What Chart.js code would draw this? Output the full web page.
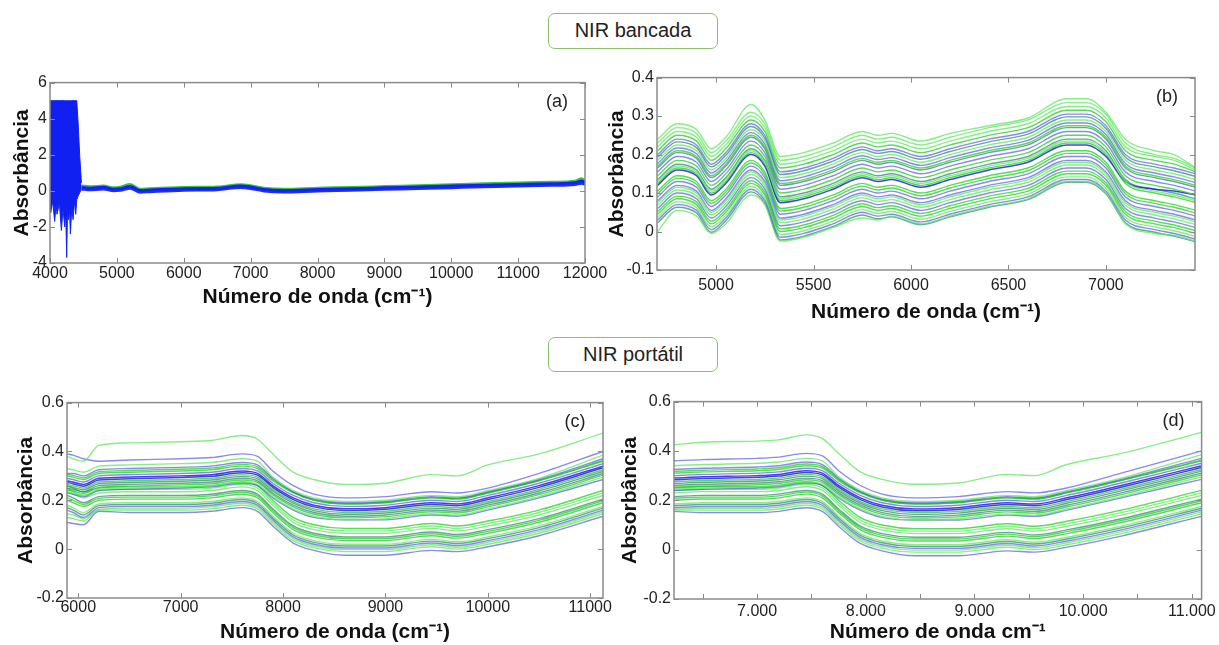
<!DOCTYPE html>
<html>
<head>
<meta charset="utf-8">
<script src="https://cdn.jsdelivr.net/npm/chart.js@4.4.0/dist/chart.umd.min.js"></script>
<style>
  body { margin: 0; background: #fff; width: 1219px; height: 645px; position: relative; overflow: hidden;
         font-family: 'Liberation Sans', Arial, sans-serif; }
  .box { position: absolute; border: 1.5px solid #8cbf6c; border-radius: 7px; box-sizing: border-box;
         text-align: center; font-size: 20px; color: #222; background: #fff; }
  .panel { position: absolute; }
</style>
</head>
<body>
<div class="box" style="left:548px;top:13px;width:170px;height:36px;line-height:33px">NIR bancada</div>
<div class="box" style="left:548px;top:337px;width:170px;height:35px;line-height:32px">NIR portátil</div>

<div class="panel" style="left:0;top:70px"><canvas id="chartA" width="612" height="240"></canvas></div>
<div class="panel" style="left:600px;top:65px"><canvas id="chartB" width="619" height="262"></canvas></div>
<div class="panel" style="left:0;top:390px"><canvas id="chartC" width="622" height="255"></canvas></div>
<div class="panel" style="left:610px;top:389px"><canvas id="chartD" width="609" height="256"></canvas></div>

<script>
// ---- (a) NIR bancada, full range ----
const blockWave = [4000, 4010, 4040, 4070, 4090, 4105, 4140, 4170, 4195, 4220, 4235, 4250, 4262, 4275, 4290, 4305, 4325, 4345, 4365, 4385, 4400, 4420, 4445, 4470];
const blockTop = [5, 5, 5, 5, 5, 5, 5, 5, 5, 5, 5, 5, 5, 5, 5, 5, 5, 5, 5, 5, 5, 3.8, 1.9, 0.45];
const blockBottom = [-1.0, -1.2, -0.6, -1.7, -0.8, -1.3, -0.7, -2.2, -1.0, -2.0, -1.2, -3.7, -1.0, -1.6, -0.9, -2.4, -1.0, -1.6, -0.6, -1.3, -0.5, -0.3, -0.1, 0.1];

const wavA = [4470, 4600, 4800, 4950, 5050, 5200, 5350, 5500, 6000, 6500, 6850, 7000, 7200, 7500, 8000, 8500, 9000, 9500, 10000, 10500, 11000, 11500, 11850, 11950, 12000];
const bandAUpper = [0.28, 0.24, 0.28, 0.18, 0.22, 0.36, 0.1, 0.13, 0.2, 0.23, 0.35, 0.3, 0.16, 0.1, 0.16, 0.2, 0.25, 0.3, 0.35, 0.4, 0.45, 0.49, 0.55, 0.68, 0.55];
const bandAMid = [0.2, 0.15, 0.2, 0.1, 0.12, 0.25, 0.02, 0.05, 0.12, 0.15, 0.27, 0.22, 0.08, 0.02, 0.08, 0.12, 0.17, 0.22, 0.27, 0.32, 0.36, 0.4, 0.45, 0.55, 0.45];
const bandALower = [0.1, 0.05, 0.1, 0.0, 0.02, 0.14, -0.08, -0.05, 0.03, 0.06, 0.18, 0.13, -0.01, -0.07, -0.01, 0.03, 0.08, 0.12, 0.17, 0.22, 0.26, 0.3, 0.35, 0.42, 0.35];

const xTicksA = [4000, 5000, 6000, 7000, 8000, 9000, 10000, 11000, 12000];
const xLabelsA = ['4000', '5000', '6000', '7000', '8000', '9000', '10000', '11000', '12000'];
const yTicksA = [-4, -2, 0, 2, 4, 6];
const yLabelsA = ['-4', '-2', '0', '2', '4', '6'];

// ---- (b) NIR bancada, 4700-7460 ----
const wavB = [4700, 4800, 4900, 4975, 5050, 5180, 5250, 5330, 5450, 5600, 5750, 5830, 5900, 6050, 6200, 6400, 6600, 6800, 6900, 7000, 7100, 7250, 7350, 7460];
const specB = [
  [0.24, 0.28, 0.265, 0.215, 0.245, 0.33, 0.29, 0.195, 0.205, 0.23, 0.26, 0.25, 0.255, 0.235, 0.255, 0.275, 0.295, 0.345, 0.345, 0.31, 0.24, 0.21, 0.2, 0.165],
  [0.22, 0.26, 0.245, 0.195, 0.225, 0.30, 0.27, 0.175, 0.185, 0.21, 0.24, 0.23, 0.235, 0.215, 0.235, 0.26, 0.28, 0.325, 0.325, 0.295, 0.22, 0.195, 0.185, 0.16],
  [0.20, 0.24, 0.225, 0.175, 0.205, 0.28, 0.25, 0.155, 0.165, 0.19, 0.22, 0.21, 0.215, 0.195, 0.215, 0.24, 0.26, 0.305, 0.305, 0.275, 0.20, 0.175, 0.165, 0.15],
  [0.185, 0.225, 0.21, 0.16, 0.19, 0.265, 0.235, 0.14, 0.15, 0.175, 0.205, 0.195, 0.20, 0.18, 0.20, 0.225, 0.245, 0.29, 0.29, 0.26, 0.185, 0.16, 0.15, 0.135],
  [0.17, 0.21, 0.195, 0.145, 0.175, 0.25, 0.22, 0.125, 0.135, 0.16, 0.19, 0.18, 0.185, 0.165, 0.185, 0.21, 0.23, 0.275, 0.275, 0.245, 0.17, 0.145, 0.135, 0.12],
  [0.155, 0.195, 0.18, 0.13, 0.16, 0.235, 0.205, 0.11, 0.12, 0.145, 0.175, 0.165, 0.17, 0.15, 0.17, 0.195, 0.215, 0.26, 0.26, 0.23, 0.155, 0.13, 0.12, 0.105],
  [0.145, 0.185, 0.17, 0.12, 0.15, 0.225, 0.195, 0.10, 0.11, 0.135, 0.165, 0.155, 0.16, 0.14, 0.16, 0.185, 0.205, 0.25, 0.25, 0.22, 0.145, 0.12, 0.11, 0.095],
  [0.13, 0.17, 0.155, 0.105, 0.135, 0.21, 0.18, 0.085, 0.095, 0.12, 0.15, 0.14, 0.145, 0.125, 0.145, 0.17, 0.19, 0.235, 0.235, 0.205, 0.13, 0.105, 0.095, 0.08],
  [0.12, 0.16, 0.145, 0.095, 0.125, 0.20, 0.17, 0.075, 0.085, 0.11, 0.14, 0.13, 0.135, 0.115, 0.135, 0.16, 0.18, 0.225, 0.225, 0.195, 0.13, 0.11, 0.105, 0.095],
  [0.105, 0.145, 0.13, 0.08, 0.11, 0.185, 0.155, 0.06, 0.07, 0.095, 0.125, 0.115, 0.12, 0.10, 0.12, 0.145, 0.165, 0.21, 0.21, 0.18, 0.105, 0.08, 0.07, 0.055],
  [0.09, 0.13, 0.115, 0.065, 0.095, 0.17, 0.14, 0.045, 0.055, 0.08, 0.11, 0.10, 0.105, 0.085, 0.105, 0.13, 0.15, 0.195, 0.195, 0.165, 0.09, 0.065, 0.055, 0.04],
  [0.075, 0.115, 0.10, 0.05, 0.08, 0.155, 0.125, 0.03, 0.04, 0.065, 0.095, 0.085, 0.09, 0.07, 0.09, 0.115, 0.135, 0.18, 0.18, 0.15, 0.075, 0.05, 0.04, 0.025],
  [0.06, 0.10, 0.085, 0.035, 0.065, 0.14, 0.11, 0.015, 0.025, 0.05, 0.08, 0.07, 0.075, 0.055, 0.075, 0.10, 0.12, 0.165, 0.165, 0.135, 0.06, 0.035, 0.025, 0.01],
  [0.045, 0.085, 0.07, 0.02, 0.05, 0.125, 0.095, 0.0, 0.01, 0.035, 0.065, 0.055, 0.06, 0.04, 0.06, 0.085, 0.105, 0.15, 0.15, 0.12, 0.045, 0.02, 0.01, -0.005],
  [0.03, 0.07, 0.055, 0.005, 0.035, 0.11, 0.08, -0.015, -0.005, 0.02, 0.05, 0.04, 0.045, 0.025, 0.045, 0.07, 0.09, 0.135, 0.135, 0.105, 0.03, 0.005, -0.005, -0.02],
  [0.0, 0.055, 0.04, -0.005, 0.02, 0.095, 0.07, -0.025, -0.015, 0.01, 0.035, 0.03, 0.04, 0.02, 0.04, 0.065, 0.085, 0.13, 0.13, 0.10, 0.02, -0.005, -0.01, -0.025],
  [0.135, 0.175, 0.16, 0.11, 0.14, 0.215, 0.185, 0.09, 0.10, 0.125, 0.155, 0.145, 0.15, 0.13, 0.15, 0.175, 0.195, 0.24, 0.24, 0.21, 0.135, 0.11, 0.10, 0.085],
  [0.08, 0.12, 0.105, 0.055, 0.085, 0.16, 0.13, 0.035, 0.045, 0.07, 0.10, 0.09, 0.095, 0.075, 0.095, 0.12, 0.14, 0.185, 0.185, 0.155, 0.08, 0.055, 0.045, 0.03],
  [0.165, 0.205, 0.19, 0.14, 0.17, 0.245, 0.215, 0.12, 0.13, 0.155, 0.185, 0.175, 0.18, 0.16, 0.18, 0.205, 0.225, 0.27, 0.27, 0.24, 0.165, 0.14, 0.13, 0.115],
  [0.23, 0.27, 0.255, 0.205, 0.235, 0.31, 0.28, 0.185, 0.195, 0.22, 0.25, 0.24, 0.245, 0.225, 0.245, 0.27, 0.29, 0.335, 0.335, 0.305, 0.23, 0.2, 0.19, 0.165],
  [0.21, 0.25, 0.235, 0.185, 0.215, 0.29, 0.26, 0.165, 0.175, 0.20, 0.23, 0.22, 0.225, 0.205, 0.225, 0.25, 0.27, 0.315, 0.315, 0.285, 0.21, 0.185, 0.175, 0.155],
  [0.193, 0.233, 0.218, 0.168, 0.198, 0.273, 0.243, 0.148, 0.158, 0.183, 0.213, 0.203, 0.208, 0.188, 0.208, 0.233, 0.253, 0.298, 0.298, 0.268, 0.193, 0.168, 0.158, 0.143],
  [0.177, 0.217, 0.202, 0.152, 0.182, 0.257, 0.227, 0.132, 0.142, 0.167, 0.197, 0.187, 0.192, 0.172, 0.192, 0.217, 0.237, 0.282, 0.282, 0.252, 0.177, 0.152, 0.142, 0.127],
  [0.125, 0.165, 0.15, 0.10, 0.13, 0.205, 0.175, 0.08, 0.09, 0.115, 0.145, 0.135, 0.14, 0.12, 0.14, 0.165, 0.185, 0.23, 0.23, 0.2, 0.125, 0.1, 0.09, 0.075],
  [0.098, 0.138, 0.123, 0.073, 0.103, 0.178, 0.148, 0.053, 0.063, 0.088, 0.118, 0.108, 0.113, 0.093, 0.113, 0.138, 0.158, 0.203, 0.203, 0.173, 0.098, 0.073, 0.063, 0.048],
  [0.068, 0.108, 0.093, 0.043, 0.073, 0.148, 0.118, 0.023, 0.033, 0.058, 0.088, 0.078, 0.083, 0.063, 0.083, 0.108, 0.128, 0.173, 0.173, 0.143, 0.068, 0.043, 0.033, 0.018],
  [0.052, 0.092, 0.077, 0.027, 0.057, 0.132, 0.102, 0.007, 0.017, 0.042, 0.072, 0.062, 0.067, 0.047, 0.067, 0.092, 0.112, 0.157, 0.157, 0.127, 0.052, 0.027, 0.017, 0.002],
  [0.037, 0.077, 0.062, 0.012, 0.042, 0.117, 0.087, -0.008, 0.002, 0.027, 0.057, 0.047, 0.052, 0.032, 0.052, 0.077, 0.097, 0.142, 0.142, 0.112, 0.037, 0.012, 0.002, -0.013],
  [0.023, 0.063, 0.048, -0.002, 0.028, 0.103, 0.073, -0.022, -0.012, 0.013, 0.043, 0.033, 0.038, 0.018, 0.038, 0.063, 0.083, 0.128, 0.128, 0.098, 0.023, -0.002, -0.012, -0.027]
];
const colorsB = ['g', 'g', 'b', 'g', 'G', 'b', 'G', 'g', 'B', 'G', 'b', 'g', 'b', 'G', 'b', 'g', 't', 'b', 't',
                 'g', 'G', 't', 'b', 'G', 'G', 'g', 'G', 'g', 't'];

const xTicksB = [5000, 5500, 6000, 6500, 7000];
const xLabelsB = ['5000', '5500', '6000', '6500', '7000'];
const yTicksB = [-0.1, 0, 0.1, 0.2, 0.3, 0.4];
const yLabelsB = ['-0.1', '0', '0.1', '0.2', '0.3', '0.4'];

// ---- (c) NIR portatil ----
const wavC = [5890, 5950, 6050, 6200, 6500, 7000, 7300, 7600, 7750, 7900, 8100, 8300, 8600, 9000, 9450, 9700, 10000, 10500, 11125];
const specC = [
  [0.38, 0.37, 0.36, 0.425, 0.435, 0.44, 0.445, 0.465, 0.45, 0.39, 0.315, 0.285, 0.265, 0.27, 0.305, 0.30, 0.345, 0.39, 0.475],
  [0.39, 0.385, 0.37, 0.36, 0.365, 0.37, 0.375, 0.39, 0.38, 0.32, 0.26, 0.225, 0.21, 0.215, 0.235, 0.23, 0.25, 0.31, 0.40],
  [0.33, 0.325, 0.315, 0.34, 0.345, 0.35, 0.355, 0.37, 0.36, 0.295, 0.24, 0.21, 0.195, 0.20, 0.22, 0.215, 0.24, 0.29, 0.385],
  [0.31, 0.31, 0.30, 0.325, 0.33, 0.335, 0.34, 0.355, 0.345, 0.29, 0.235, 0.205, 0.19, 0.195, 0.215, 0.21, 0.235, 0.285, 0.37],
  [0.30, 0.295, 0.285, 0.31, 0.315, 0.32, 0.325, 0.34, 0.33, 0.28, 0.23, 0.20, 0.185, 0.19, 0.21, 0.205, 0.23, 0.28, 0.36],
  [0.29, 0.285, 0.275, 0.30, 0.305, 0.31, 0.315, 0.33, 0.32, 0.27, 0.22, 0.19, 0.175, 0.18, 0.20, 0.195, 0.22, 0.27, 0.35],
  [0.28, 0.275, 0.265, 0.29, 0.295, 0.30, 0.305, 0.32, 0.31, 0.26, 0.21, 0.18, 0.165, 0.17, 0.19, 0.185, 0.21, 0.26, 0.34],
  [0.265, 0.26, 0.25, 0.275, 0.28, 0.285, 0.29, 0.305, 0.295, 0.245, 0.195, 0.165, 0.15, 0.155, 0.175, 0.17, 0.195, 0.245, 0.325],
  [0.25, 0.245, 0.235, 0.26, 0.265, 0.27, 0.275, 0.29, 0.28, 0.23, 0.18, 0.15, 0.135, 0.14, 0.16, 0.155, 0.18, 0.23, 0.31],
  [0.235, 0.23, 0.22, 0.245, 0.25, 0.255, 0.26, 0.275, 0.265, 0.215, 0.165, 0.135, 0.12, 0.125, 0.145, 0.14, 0.165, 0.215, 0.295],
  [0.23, 0.225, 0.215, 0.24, 0.245, 0.25, 0.255, 0.27, 0.26, 0.21, 0.16, 0.13, 0.12, 0.12, 0.14, 0.135, 0.16, 0.21, 0.285],
  [0.26, 0.25, 0.235, 0.25, 0.255, 0.255, 0.26, 0.275, 0.26, 0.20, 0.13, 0.10, 0.085, 0.085, 0.105, 0.095, 0.115, 0.16, 0.24],
  [0.235, 0.225, 0.21, 0.23, 0.235, 0.235, 0.24, 0.255, 0.24, 0.18, 0.11, 0.08, 0.065, 0.065, 0.085, 0.075, 0.095, 0.14, 0.22],
  [0.22, 0.21, 0.19, 0.215, 0.22, 0.22, 0.225, 0.24, 0.225, 0.165, 0.095, 0.065, 0.05, 0.05, 0.07, 0.06, 0.08, 0.125, 0.205],
  [0.20, 0.19, 0.175, 0.20, 0.205, 0.205, 0.21, 0.225, 0.21, 0.15, 0.08, 0.05, 0.035, 0.035, 0.055, 0.045, 0.065, 0.11, 0.19],
  [0.18, 0.17, 0.15, 0.185, 0.19, 0.19, 0.195, 0.21, 0.195, 0.135, 0.065, 0.035, 0.02, 0.02, 0.04, 0.03, 0.05, 0.095, 0.175],
  [0.16, 0.15, 0.13, 0.17, 0.175, 0.175, 0.18, 0.195, 0.18, 0.12, 0.05, 0.02, 0.005, 0.005, 0.025, 0.015, 0.035, 0.08, 0.16],
  [0.13, 0.125, 0.115, 0.16, 0.16, 0.16, 0.165, 0.18, 0.165, 0.105, 0.035, 0.005, -0.01, -0.01, 0.01, 0.0, 0.02, 0.065, 0.145],
  [0.11, 0.105, 0.10, 0.155, 0.15, 0.15, 0.155, 0.17, 0.155, 0.095, 0.025, -0.005, -0.025, -0.025, -0.005, -0.01, 0.01, 0.055, 0.135],
  [0.307, 0.302, 0.292, 0.317, 0.322, 0.327, 0.332, 0.347, 0.337, 0.285, 0.233, 0.201, 0.186, 0.191, 0.211, 0.206, 0.231, 0.281, 0.363],
  [0.273, 0.268, 0.258, 0.283, 0.288, 0.293, 0.298, 0.313, 0.303, 0.253, 0.203, 0.173, 0.158, 0.163, 0.183, 0.178, 0.203, 0.253, 0.333],
  [0.258, 0.253, 0.243, 0.268, 0.273, 0.278, 0.283, 0.298, 0.288, 0.238, 0.188, 0.158, 0.143, 0.148, 0.168, 0.163, 0.188, 0.238, 0.318],
  [0.243, 0.238, 0.228, 0.253, 0.258, 0.263, 0.268, 0.283, 0.273, 0.223, 0.173, 0.143, 0.128, 0.133, 0.153, 0.148, 0.173, 0.223, 0.303],
  [0.25, 0.235, 0.22, 0.24, 0.245, 0.245, 0.25, 0.265, 0.25, 0.19, 0.12, 0.09, 0.075, 0.075, 0.095, 0.085, 0.105, 0.15, 0.23],
  [0.21, 0.20, 0.183, 0.208, 0.213, 0.213, 0.218, 0.233, 0.218, 0.158, 0.088, 0.058, 0.043, 0.043, 0.063, 0.053, 0.073, 0.118, 0.198],
  [0.17, 0.16, 0.14, 0.178, 0.183, 0.183, 0.188, 0.203, 0.188, 0.128, 0.058, 0.028, 0.013, 0.013, 0.033, 0.023, 0.043, 0.088, 0.168],
  [0.145, 0.14, 0.125, 0.163, 0.168, 0.168, 0.173, 0.188, 0.173, 0.113, 0.043, 0.013, -0.002, -0.002, 0.018, 0.008, 0.028, 0.073, 0.153]
];
const colorsC = ['g', 'b', 'g', 'b', 'G', 'b', 'B', 'G', 't', 'g', 'b', 'G', 'g', 't', 'G', 'g', 'b', 'g', 'b',
                 'G', 'B', 't', 'G', 'g', 'G', 't', 'g'];

const xTicksC = [6000, 7000, 8000, 9000, 10000, 11000];
const xLabelsC = ['6000', '7000', '8000', '9000', '10000', '11000'];
const yTicksC = [-0.2, 0, 0.2, 0.4, 0.6];
const yLabelsC = ['-0.2', '0', '0.2', '0.4', '0.6'];

// ---- (d) same spectra, cropped at 6235 (first three readings of (c) fall outside) ----
const wavD = [6235, 6500, 7000, 7200, 7450, 7600, 7750, 7950, 8150, 8450, 8850, 9300, 9550, 9850, 10350, 11090];
const specD = specC.map(s => s.slice(3));
const xTicksD = [6500, 7000, 7500, 8000, 8500, 9000, 9500, 10000, 10500, 11000];
const xLabelsD = ['', '7.000', '', '8.000', '', '9.000', '', '10.000', '', '11.000'];

const palette = {
  g: 'rgba(95, 232, 95, 0.75)',
  G: 'rgba(15, 205, 15, 0.7)',
  b: 'rgba(60, 60, 225, 0.6)',
  B: 'rgba(20, 20, 220, 0.8)',
  t: 'rgba(20, 120, 100, 0.65)'
};

const FONT = "'Liberation Sans', Arial, sans-serif";

function pts(xs, ys) {
  return xs.map((x, i) => ({ x: x, y: ys[i] }));
}

function spectra(xs, series, keys) {
  return series.map((ys, i) => ({
    data: pts(xs, ys),
    borderColor: palette[keys[i]],
    borderWidth: keys[i] === 'B' ? 1.5 : 1.4,
    pointRadius: 0,
    fill: false,
    cubicInterpolationMode: 'monotone'
  }));
}

// box around the plot, inward ticks on all four sides, panel letter
const framePlugin = {
  id: 'frame',
  afterDatasetsDraw(chart, args, opts) {
    const { ctx, chartArea: a } = chart;
    const x = chart.scales.x, y = chart.scales.y;
    ctx.save();
    ctx.strokeStyle = '#8a8a8a';
    ctx.lineWidth = 1.5;
    ctx.strokeRect(a.left, a.top, a.right - a.left, a.bottom - a.top);
    ctx.lineWidth = 1;
    ctx.beginPath();
    x.ticks.forEach(t => {
      const px = Math.round(x.getPixelForValue(t.value)) + 0.5;
      ctx.moveTo(px, a.bottom); ctx.lineTo(px, a.bottom - 5);
      ctx.moveTo(px, a.top); ctx.lineTo(px, a.top + 5);
    });
    y.ticks.forEach(t => {
      const py = Math.round(y.getPixelForValue(t.value)) + 0.5;
      ctx.moveTo(a.left, py); ctx.lineTo(a.left + 5, py);
      ctx.moveTo(a.right, py); ctx.lineTo(a.right - 5, py);
    });
    ctx.stroke();
    ctx.fillStyle = '#222';
    ctx.font = '18px ' + FONT;
    ctx.textAlign = 'center';
    ctx.textBaseline = 'middle';
    ctx.fillText(opts.label, a.right - 28, a.top + 19);
    ctx.restore();
  }
};

function buildOptions(p) {
  const tickFont = { family: FONT, size: 16 };
  const titleFont = { family: FONT, size: 21, weight: 'bold' };
  return {
    responsive: false,
    animation: false,
    devicePixelRatio: 1,
    layout: { padding: { top: 10, right: p.padRight, bottom: 0, left: 0 } },
    plugins: {
      legend: { display: false },
      tooltip: { enabled: false },
      frame: { label: p.label }
    },
    scales: {
      x: {
        type: 'linear',
        min: p.xMin,
        max: p.xMax,
        afterBuildTicks: s => { s.ticks = p.xTicks.map(v => ({ value: v })); },
        afterFit: s => { s.height = p.xHeight; },
        grid: { display: false, drawTicks: false },
        border: { display: false },
        ticks: {
          autoSkip: false, maxRotation: 0, padding: p.xTickPad, color: '#222', font: tickFont,
          callback: (v, i) => p.xLabels[i]
        },
        title: {
          display: true, text: p.xTitle, color: '#111', font: titleFont,
          padding: { top: 0, bottom: p.xTitlePad }
        }
      },
      y: {
        type: 'linear',
        min: p.yMin,
        max: p.yMax,
        afterBuildTicks: s => { s.ticks = p.yTicks.map(v => ({ value: v })); },
        afterFit: s => { s.width = p.yWidth; },
        grid: { display: false, drawTicks: false },
        border: { display: false },
        ticks: {
          autoSkip: false, padding: 3, color: '#222', font: tickFont,
          callback: (v, i) => p.yLabels[i]
        },
        title: {
          display: true, text: 'Absorbância', color: '#111', font: titleFont,
          padding: { top: p.yTitlePad, bottom: 0 }
        }
      }
    }
  };
}

const xTitle = 'Número de onda (cm⁻¹)';

// (a)
new Chart(document.getElementById('chartA'), {
  type: 'line',
  data: {
    datasets: [
      { data: pts(blockWave, blockTop), borderColor: '#1020f0', borderWidth: 1, pointRadius: 0, tension: 0,
        fill: '+1', backgroundColor: '#1020f0' },
      { data: pts(blockWave, blockBottom), borderColor: '#1a2cf0', borderWidth: 1, pointRadius: 0, tension: 0, fill: false },
      { data: pts(wavA, bandAMid), borderColor: '#1420f5', borderWidth: 2.8, pointRadius: 0, cubicInterpolationMode: 'monotone', fill: false },
      { data: pts(wavA, bandALower), borderColor: '#2030ee', borderWidth: 2.8, pointRadius: 0, cubicInterpolationMode: 'monotone', fill: false },
      { data: pts(wavA, bandAUpper), borderColor: '#30c840', borderWidth: 2.5, pointRadius: 0, cubicInterpolationMode: 'monotone', fill: false }
    ]
  },
  options: buildOptions({
    label: '(a)', xMin: 4000, xMax: 12000, yMin: -4, yMax: 6,
    xTicks: xTicksA, xLabels: xLabelsA, yTicks: yTicksA, yLabels: yLabelsA,
    padRight: 27, yWidth: 50, xHeight: 47, xTickPad: 1, xTitlePad: 0, yTitlePad: 10, xTitle: xTitle
  }),
  plugins: [framePlugin]
});

// (b)
new Chart(document.getElementById('chartB'), {
  type: 'line',
  data: { datasets: spectra(wavB, specB, colorsB) },
  options: buildOptions({
    label: '(b)', xMin: 4697, xMax: 7457, yMin: -0.1, yMax: 0.4,
    xTicks: xTicksB, xLabels: xLabelsB, yTicks: yTicksB, yLabels: yLabelsB,
    padRight: 24, yWidth: 57, xHeight: 57, xTickPad: 6, xTitlePad: 2, yTitlePad: 5, xTitle: xTitle
  }),
  plugins: [framePlugin]
});

// (c)
new Chart(document.getElementById('chartC'), {
  type: 'line',
  data: { datasets: spectra(wavC, specC, colorsC) },
  options: buildOptions({
    label: '(c)', xMin: 5890, xMax: 11125, yMin: -0.2, yMax: 0.6,
    xTicks: xTicksC, xLabels: xLabelsC, yTicks: yTicksC, yLabels: yLabelsC,
    padRight: 19, yWidth: 67, xHeight: 47, xTickPad: 0, xTitlePad: 0, yTitlePad: 14, xTitle: xTitle
  }),
  plugins: [framePlugin]
});

// (d)
new Chart(document.getElementById('chartD'), {
  type: 'line',
  data: { datasets: spectra(wavD, specD, colorsC) },
  options: buildOptions({
    label: '(d)', xMin: 6235, xMax: 11090, yMin: -0.2, yMax: 0.6,
    xTicks: xTicksD, xLabels: xLabelsD, yTicks: yTicksC, yLabels: yLabelsC,
    padRight: 17, yWidth: 64, xHeight: 46, xTickPad: 3, xTitlePad: 0, yTitlePad: 8, xTitle: 'Número de onda cm⁻¹'
  }),
  plugins: [framePlugin]
});
</script>
</body>
</html>
